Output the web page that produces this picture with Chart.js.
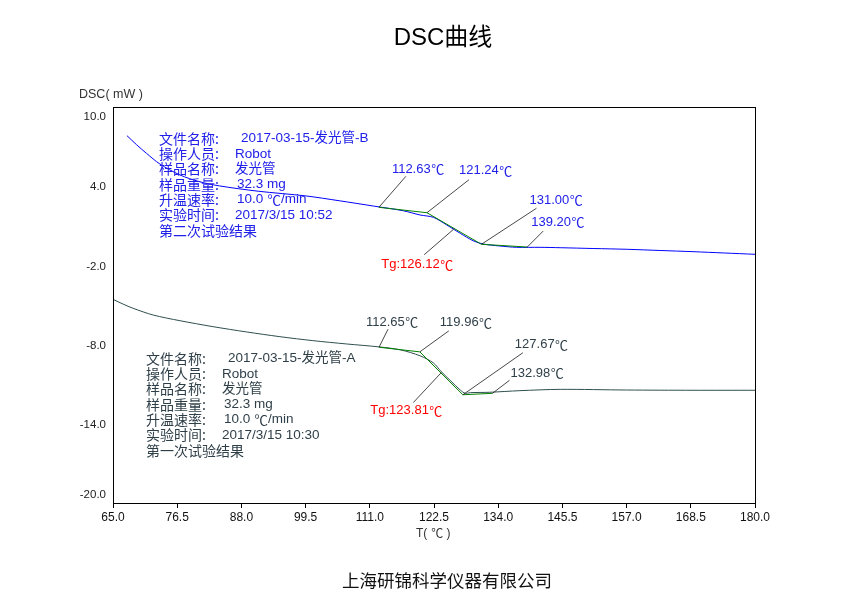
<!DOCTYPE html>
<html>
<head>
<meta charset="utf-8">
<title>DSC曲线</title>
<script src="https://cdn.jsdelivr.net/npm/chart.js@4.4.1/dist/chart.umd.min.js"></script>
<style>
  html, body { margin: 0; padding: 0; background: #fff; }
  #wrap { width: 863px; height: 596px; }
</style>
</head>
<body>
<div id="wrap"><canvas id="dsc" width="863" height="596"></canvas></div>
<script>
// sample B (第二次试验) — temperature (℃) / heat flow (mW)
const tempB = [67.5, 69.2, 71.0, 73.4, 77.0, 80.5, 84.1, 91.0, 99.6, 105.5, 111.6, 117.0, 120.0, 122.4,
  124.8, 127.2, 129.5, 131.3, 134.3, 137.3, 141.5, 145.1, 151.0, 157.1, 163.0, 168.9, 174.5, 180.0];
const dscB = [7.83, 7.15, 6.49, 5.68, 4.85, 4.34, 4.02, 3.62, 3.26, 2.90, 2.50, 2.14, 1.82, 1.64,
  1.06, 0.43, -0.13, -0.38, -0.53, -0.63, -0.63, -0.66, -0.72, -0.78, -0.87, -0.96, -1.06, -1.16];

// sample A (第一次试验)
const tempA = [65.0, 66.8, 68.6, 72.2, 77.0, 82.9, 88.9, 94.9, 100.8, 106.8, 112.8, 116.5, 120.0,
  122.4, 123.8, 125.5, 127.2, 128.1, 129.0, 132.5, 137.9, 145.1, 157.0, 168.9, 180.0];
const dscA = [-4.57, -4.93, -5.25, -5.76, -6.19, -6.64, -7.04, -7.40, -7.70, -7.95, -8.18, -8.40, -8.85,
  -9.39, -10.05, -10.75, -11.44, -11.69, -11.64, -11.61, -11.49, -11.39, -11.44, -11.46, -11.46];

// glass transition tangent points
const tanTempB = [112.63, 121.24, 131.00, 139.20];
const tanDscB = [2.40, 1.99, -0.40, -0.61];
const tanTempA = [112.65, 119.96, 127.67, 132.98];
const tanDscA = [-8.20, -8.55, -11.80, -11.69];
const tgB = [126.12, 0.78];
const tgA = [123.81, -10.12];

const xTicks = [65.0, 76.5, 88.0, 99.5, 111.0, 122.5, 134.0, 145.5, 157.0, 168.5, 180.0];
const yTicks = [10.0, 4.0, -2.0, -8.0, -14.0, -20.0];

const infoLabels = ['文件名称:', '操作人员:', '样品名称:', '样品重量:', '升温速率:', '实验时间:'];
const infoB = ['2017-03-15-发光管-B', 'Robot', '发光管', '32.3 mg', '10.0 ℃/min', '2017/3/15 10:52'];
const infoA = ['2017-03-15-发光管-A', 'Robot', '发光管', '32.3 mg', '10.0 ℃/min', '2017/3/15 10:30'];

const BLUE = '#0000ff';
const BLUE_TXT = '#2020e8';
const DARK = '#2f4f4f';
const DARK_TXT = '#2f3f48';
const GREEN = '#008000';
const RED = '#ff0000';
const LATIN = "'Liberation Sans', Arial, 'Noto Sans CJK SC'";
const CJK = "'Noto Sans CJK SC', 'Liberation Sans', sans-serif";

const pts = (xs, ys) => xs.map((t, i) => ({ x: t, y: ys[i] }));

// leader lines: [temp, value, lead offset, text offset, text, color]
const notesB = [
  [tanTempB[0], tanDscB[0], [27, -31], [13, -38], '112.63℃', BLUE_TXT],
  [tanTempB[1], tanDscB[1], [42, -33], [32, -42], '121.24℃', BLUE_TXT],
  [tanTempB[2], tanDscB[2], [55, -36], [48, -44], '131.00℃', BLUE_TXT],
  [tanTempB[3], tanDscB[3], [16, -16], [4, -25], '139.20℃', BLUE_TXT],
  [tgB[0], tgB[1], [-30, 26], [-73, 36], 'Tg:126.12℃', RED],
];
const notesA = [
  [tanTempA[0], tanDscA[0], [9, -18], [-13, -25], '112.65℃', DARK_TXT],
  [tanTempA[1], tanDscA[1], [29, -21], [20, -29], '119.96℃', DARK_TXT],
  [tanTempA[2], tanDscA[2], [60, -42], [52, -50], '127.67℃', DARK_TXT],
  [tanTempA[3], tanDscA[3], [17, -13], [18, -20], '132.98℃', DARK_TXT],
  [tgA[0], tgA[1], [-28, 30], [-71, 38], 'Tg:123.81℃', RED],
];

const valueOffsets = [82, 76, 76, 78, 78, 76];

// latin text with a full-width ℃ (stretched to one em)
function fillMixed(ctx, text, x0, y0, size) {
  const parts = text.split('℃');
  let xx = x0;
  parts.forEach((p, i) => {
    ctx.font = size + 'px ' + LATIN;
    ctx.fillText(p, xx, y0);
    xx += ctx.measureText(p).width;
    if (i < parts.length - 1) {
      ctx.font = size + 'px ' + CJK;
      const w = ctx.measureText('℃').width;
      const target = size * 0.95;
      ctx.save();
      ctx.translate(xx + 0.5, y0);
      ctx.scale(w < target ? target / w : 1, 1);
      ctx.fillText('℃', 0, 0);
      ctx.restore();
      xx += Math.max(w, target) + 0.5;
    }
  });
}

function drawInfo(ctx, x0, y0, values, color, last) {
  ctx.fillStyle = color;
  ctx.textBaseline = 'middle';
  ctx.textAlign = 'left';
  infoLabels.forEach((lab, i) => {
    const yy = y0 + i * 15.3;
    ctx.font = '14px ' + CJK;
    ctx.fillText(lab, x0, yy);
    fillMixed(ctx, values[i], x0 + valueOffsets[i], yy, 13.5);
  });
  ctx.font = '14px ' + CJK;
  ctx.fillText(last, x0, y0 + 6 * 15.3);
}

const decor = {
  id: 'decor',
  afterDatasetsDraw(chart) {
    const { ctx, chartArea: a, scales: { x, y } } = chart;
    ctx.save();
    // frame
    ctx.strokeStyle = '#000';
    ctx.lineWidth = 1;
    ctx.strokeRect(Math.round(a.left) + 0.5, Math.round(a.top) + 0.5,
      Math.round(a.right - a.left), Math.round(a.bottom - a.top));

    // leader lines + labels
    ctx.textBaseline = 'middle';
    ctx.textAlign = 'left';
    [...notesB, ...notesA].forEach(([t, v, lead, off, text, color]) => {
      const px = x.getPixelForValue(t), py = y.getPixelForValue(v);
      ctx.strokeStyle = '#1a1a1a';
      ctx.lineWidth = 0.8;
      ctx.beginPath();
      ctx.moveTo(px, py);
      ctx.lineTo(px + lead[0], py + lead[1]);
      ctx.stroke();
      ctx.fillStyle = color;
      fillMixed(ctx, text, px + off[0], py + off[1], 13);
    });

    // y tick labels (end labels tucked inside the axis)
    ctx.font = '11.5px ' + LATIN;
    ctx.fillStyle = '#222';
    ctx.textAlign = 'right';
    yTicks.forEach((v, i) => {
      let py = y.getPixelForValue(v) + 1;
      if (i === 0) py += 9;
      if (i === yTicks.length - 1) py -= 9;
      ctx.fillText(v.toFixed(1), 106, py);
    });

    // info blocks
    drawInfo(ctx, 159, 138.5, infoB, BLUE_TXT, '第二次试验结果');
    drawInfo(ctx, 146, 358.5, infoA, DARK_TXT, '第一次试验结果');

    // x axis title
    ctx.fillStyle = '#333';
    ctx.textAlign = 'left';
    fillMixed(ctx, 'T( ', 416, 533.5, 12);
    ctx.font = '12px ' + LATIN;
    const tw = ctx.measureText('T( ').width;
    fillMixed(ctx, '℃ )', 416 + tw, 533.5, 12);

    // titles
    ctx.fillStyle = '#000';
    ctx.textAlign = 'center';
    ctx.font = '24px ' + LATIN;
    ctx.fillText('DSC曲线', 443, 38);
    ctx.fillStyle = '#333';
    ctx.textAlign = 'left';
    ctx.font = '12.5px ' + LATIN;
    ctx.fillText('DSC( mW )', 79, 95);
    ctx.fillStyle = '#111';
    ctx.textAlign = 'center';
    ctx.font = '17.5px ' + CJK;
    ctx.fillText('上海研锦科学仪器有限公司', 447, 580);
    ctx.restore();
  }
};

new Chart(document.getElementById('dsc'), {
  type: 'scatter',
  data: {
    datasets: [
      { data: pts(tanTempB, tanDscB), showLine: true, borderColor: GREEN, borderWidth: 1, pointRadius: 0 },
      { data: pts(tanTempA, tanDscA), showLine: true, borderColor: GREEN, borderWidth: 1, pointRadius: 0 },
      { data: pts(tempB, dscB), showLine: true, borderColor: BLUE, borderWidth: 1, pointRadius: 0, tension: 0.3 },
      { data: pts(tempA, dscA), showLine: true, borderColor: DARK, borderWidth: 1, pointRadius: 0, tension: 0.3 },
    ],
  },
  options: {
    responsive: false,
    animation: false,
    events: [],
    layout: { padding: { left: 113, right: 108, top: 107, bottom: 55 } },
    plugins: { legend: { display: false }, tooltip: { enabled: false } },
    scales: {
      x: {
        type: 'linear', min: 65, max: 180,
        afterBuildTicks: (s) => { s.ticks = xTicks.map((v) => ({ value: v })); },
        afterFit: (s) => { s.height = 38; },
        border: { display: true, color: '#000', width: 1 },
        grid: { drawOnChartArea: false, drawTicks: true, tickLength: 5, color: '#000' },
        ticks: {
          autoSkip: false, maxRotation: 0, padding: 2, color: '#111',
          font: { family: LATIN, size: 12 },
          callback: (v) => Number(v).toFixed(1),
        },
        title: { display: false },
      },
      y: {
        type: 'linear', min: -20, max: 10,
        afterFit: (s) => { s.width = 0; },
        border: { display: true, color: '#000', width: 1 },
        grid: { display: false },
        ticks: { display: false },
      },
    },
  },
  plugins: [decor],
});
</script>
</body>
</html>
